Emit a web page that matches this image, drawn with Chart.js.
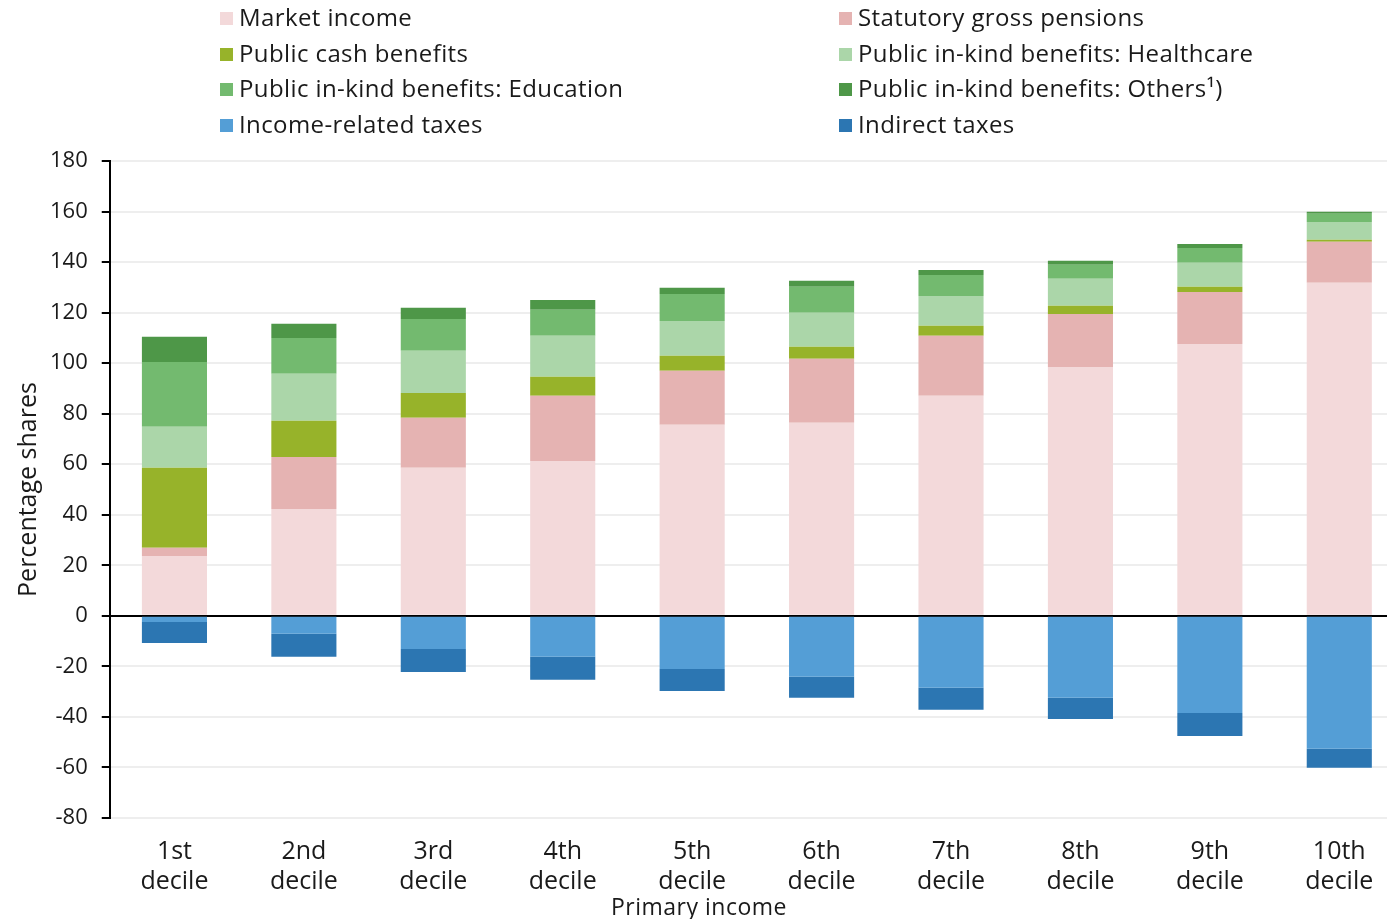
<!DOCTYPE html>
<html>
<head>
<meta charset="utf-8">
<script src="https://cdn.jsdelivr.net/npm/chart.js@4/dist/chart.umd.min.js"></script>
<style>
  body { margin: 0; background: #fff; overflow: hidden; font-family: "Open Sans", sans-serif; }
  #wrap { position: relative; width: 1404px; height: 919px; }
  #legend { position: absolute; left: 0; top: 0; width: 1387px; height: 145px; }
  .item { position: absolute; font-size: 24px; letter-spacing: 0.4px; color: #1a1a1a; white-space: nowrap; line-height: 30px; }
  .item span.box { display: inline-block; width: 13px; height: 13px; margin-right: 6px; vertical-align: 1px; }
  #xtitle { position: absolute; left: 499px; width: 400px; top: 891px; text-align: center; font-size: 23px; letter-spacing: 0.5px; color: #1a1a1a; line-height: 30px; }
</style>
</head>
<body>
<div id="wrap">
  <canvas id="chart" width="1404" height="919"></canvas>
  <div id="legend"></div>
  <div id="xtitle">Primary income</div>
</div>
<script>
const categories = [["1st", "decile"], ["2nd", "decile"], ["3rd", "decile"], ["4th", "decile"], ["5th", "decile"],
  ["6th", "decile"], ["7th", "decile"], ["8th", "decile"], ["9th", "decile"], ["10th", "decile"]];

const marketIncome = [23.7, 42.3, 58.6, 61.3, 75.6, 76.4, 87.1, 98.5, 107.6, 131.8];
const pensions = [3.2, 20.6, 19.8, 25.8, 21.4, 25.3, 23.7, 21.0, 20.6, 16.2];
const cashBenefits = [31.7, 14.3, 9.8, 7.5, 5.9, 4.8, 4.0, 3.2, 2.0, 0.8];
const healthcare = [16.2, 18.6, 16.7, 16.2, 13.8, 13.4, 11.8, 10.7, 9.5, 7.1];
const education = [25.7, 14.2, 12.6, 10.3, 10.7, 10.3, 8.3, 5.5, 5.9, 3.2];
const others = [9.9, 5.6, 4.4, 3.9, 2.4, 2.4, 2.0, 1.6, 1.6, 0.8];
const incomeTaxes = [-2.4, -7.1, -13.1, -16.2, -21.0, -24.1, -28.5, -32.4, -38.4, -52.6];
const indirectTaxes = [-8.3, -9.1, -9.1, -9.1, -8.7, -8.3, -8.7, -8.4, -9.1, -7.5];

const yTicks = [-80, -60, -40, -20, 0, 20, 40, 60, 80, 100, 120, 140, 160, 180];

const series = [
  { label: "Market income", data: marketIncome, color: "#f3d9da" },
  { label: "Statutory gross pensions", data: pensions, color: "#e5b3b2" },
  { label: "Public cash benefits", data: cashBenefits, color: "#97b32a" },
  { label: "Public in-kind benefits: Healthcare", data: healthcare, color: "#abd6a9" },
  { label: "Public in-kind benefits: Education", data: education, color: "#73ba6f" },
  { label: "Public in-kind benefits: Others\u00b9)", data: others, color: "#4e9748" },
  { label: "Income-related taxes", data: incomeTaxes, color: "#549ed6" },
  { label: "Indirect taxes", data: indirectTaxes, color: "#2c76b2" }
];

// HTML legend, two columns
const legend = document.getElementById("legend");
series.forEach((s, i) => {
  const div = document.createElement("div");
  div.className = "item";
  div.style.left = (i % 2 === 0 ? 220 : 839) + "px";
  div.style.top = (2 + Math.floor(i / 2) * 35.7) + "px";
  div.innerHTML = `<span class="box" style="background:${s.color}"></span>${s.label}`;
  legend.appendChild(div);
});

const font = "'Open Sans', sans-serif";

new Chart(document.getElementById("chart"), {
  type: "bar",
  data: {
    labels: categories,
    datasets: series.map(s => ({
      label: s.label,
      data: s.data,
      backgroundColor: s.color,
      borderWidth: 0,
      barPercentage: 1,
      categoryPercentage: 0.503
    }))
  },
  options: {
    responsive: false,
    animation: false,
    layout: { padding: { top: 161, right: 0, bottom: 11, left: 14 } },
    plugins: {
      legend: { display: false },
      tooltip: { enabled: false }
    },
    scales: {
      x: {
        stacked: true,
        grid: { display: false },
        border: { display: false },
        ticks: { color: "#1a1a1a", font: { family: font, size: 25, lineHeight: 1.2 }, maxRotation: 0, padding: 11 }
      },
      y: {
        stacked: true,
        min: -80,
        max: 180,
        afterBuildTicks: axis => { axis.ticks = yTicks.map(v => ({ value: v })); },
        grid: {
          color: ctx => ctx.tick && ctx.tick.value === 0 ? "#000" : "#eeeeee",
          lineWidth: 2,
          tickColor: "#000",
          tickLength: 8,
          tickWidth: 2
        },
        border: { display: true, color: "#000", width: 2 },
        ticks: { color: "#1a1a1a", font: { family: font, size: 22 }, padding: 14 },
        title: { display: true, text: "Percentage shares", color: "#1a1a1a", font: { family: font, size: 25 }, padding: { top: 0, bottom: -8 } }
      }
    }
  }
});
</script>
</body>
</html>
